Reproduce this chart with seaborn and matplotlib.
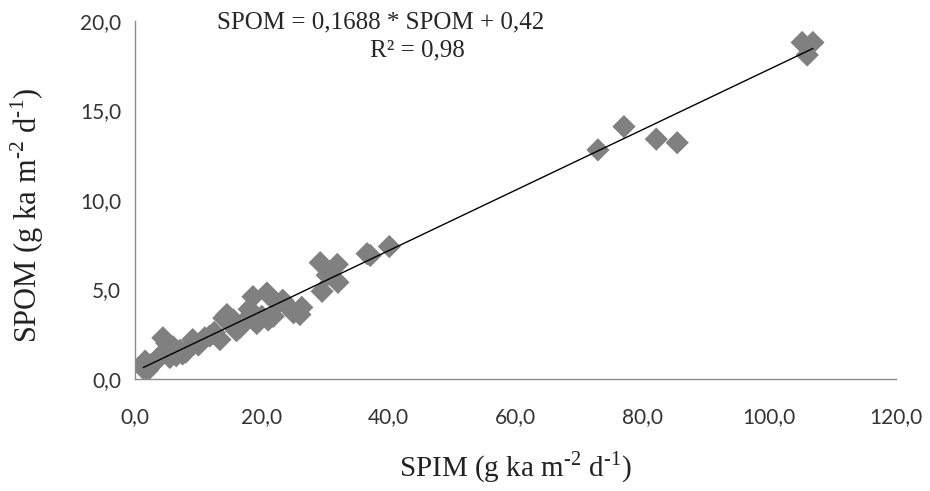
import numpy as np
import pandas as pd
import matplotlib
matplotlib.use("Agg")
import matplotlib.pyplot as plt
import seaborn as sns

# ------------------------------
# DATA
# ------------------------------
spim = [1.3, 1.6, 2.0, 2.5, 3.0, 3.5, 4.0, 4.4, 5.0, 5.5, 6.0, 6.5, 7.1, 7.5,
        8.0, 9.1, 10.0, 11.0, 11.8, 12.5, 13.4, 14.0, 14.5, 15.0, 15.5, 16.0,
        16.6, 17.2, 18.0, 18.6, 19.2, 20.0, 20.8, 21.0, 21.8, 22.5, 23.3,
        24.0, 25.0, 26.3, 26.0, 29.2, 29.5, 30.3, 31.9, 32.0, 36.6, 37.1,
        40.1, 73.0, 77.1, 82.2, 85.5, 105.2, 106.9, 106.0]
spom = [0.6, 1.0, 0.5, 0.8, 0.9, 1.1, 1.3, 2.3, 2.0, 1.2, 1.8, 1.3, 1.6, 1.4,
        1.5, 2.2, 1.9, 2.3, 2.4, 2.6, 2.2, 3.4, 3.6, 3.1, 3.3, 2.7,
        2.9, 3.2, 3.9, 4.6, 3.1, 3.5, 4.8, 3.3, 3.5, 4.2, 4.4,
        4.1, 3.7, 4.0, 3.6, 6.5, 4.9, 5.8, 6.4, 5.4, 7.0, 6.9,
        7.4, 12.8, 14.1, 13.4, 13.2, 18.8, 18.8, 18.1]
slope = 0.1688
intercept = 0.42
r2 = 0.98

df = pd.DataFrame({"SPIM": spim, "SPOM": spom})
fit = pd.DataFrame({"SPIM": [df["SPIM"].min(), df["SPIM"].max()]})
fit["SPOM"] = slope * fit["SPIM"] + intercept

# ------------------------------
# PLOT
# ------------------------------
sns.set_style("white")
plt.rcParams["font.family"] = ["Lato", "DejaVu Sans"]
plt.rcParams["axes.unicode_minus"] = False
plt.rcParams["mathtext.fontset"] = "custom"
plt.rcParams["mathtext.rm"] = "Liberation Serif"

fig = plt.figure(figsize=(9.3, 4.91), dpi=100)
ax = fig.add_axes([135 / 930, (491 - 379) / 491, (896 - 135) / 930, (379 - 21) / 491])

sns.scatterplot(data=df, x="SPIM", y="SPOM", marker="D", s=140, color="#808080",
                edgecolor="none", linewidth=0, ax=ax, zorder=2)
sns.lineplot(data=fit, x="SPIM", y="SPOM", color="black", linewidth=1.0, ax=ax, zorder=3)

ax.set_xlim(0, 120)
ax.set_ylim(0, 20)
ax.set_xticks(np.arange(0, 121, 20))
ax.set_yticks(np.arange(0, 21, 5))
ax.set_xticklabels([f"{v:.1f}".replace(".", ",") for v in ax.get_xticks()])
ax.set_yticklabels([f"{v:.1f}".replace(".", ",") for v in ax.get_yticks()])

for side in ["top", "right"]:
    ax.spines[side].set_visible(False)
for side in ["left", "bottom"]:
    ax.spines[side].set_color("#8c8c8c")
    ax.spines[side].set_linewidth(1.0)
ax.tick_params(axis="both", direction="out", length=6, width=1, color="#8c8c8c",
               labelsize=15, labelcolor="#333333")
ax.tick_params(axis="x", pad=14)
ax.tick_params(axis="y", pad=4)

serif = ["Liberation Serif", "DejaVu Serif"]
unit = r" (g ka m$^{\text{-2}}$ d$^{\text{-1}}$)"
ax.set_xlabel("SPIM" + unit, family=serif, fontsize=21, color="#222222", va="center")
ax.set_ylabel("SPOM" + unit, family=serif, fontsize=22, color="#222222", va="center")
ax.xaxis.set_label_coords(0.4995, -0.246)
ax.yaxis.set_label_coords(-0.142, 0.458)

ax.text(0.323, 0.997, f"SPOM = {slope:.4f} * SPOM + {intercept:.2f}".replace(".", ","),
        transform=ax.transAxes, ha="center", va="center", family=serif, fontsize=18)
ax.text(0.371, 0.919, f"R² = {r2:.2f}".replace(".", ","),
        transform=ax.transAxes, ha="center", va="center", family=serif, fontsize=18)

fig.savefig("out.png", dpi=100)
